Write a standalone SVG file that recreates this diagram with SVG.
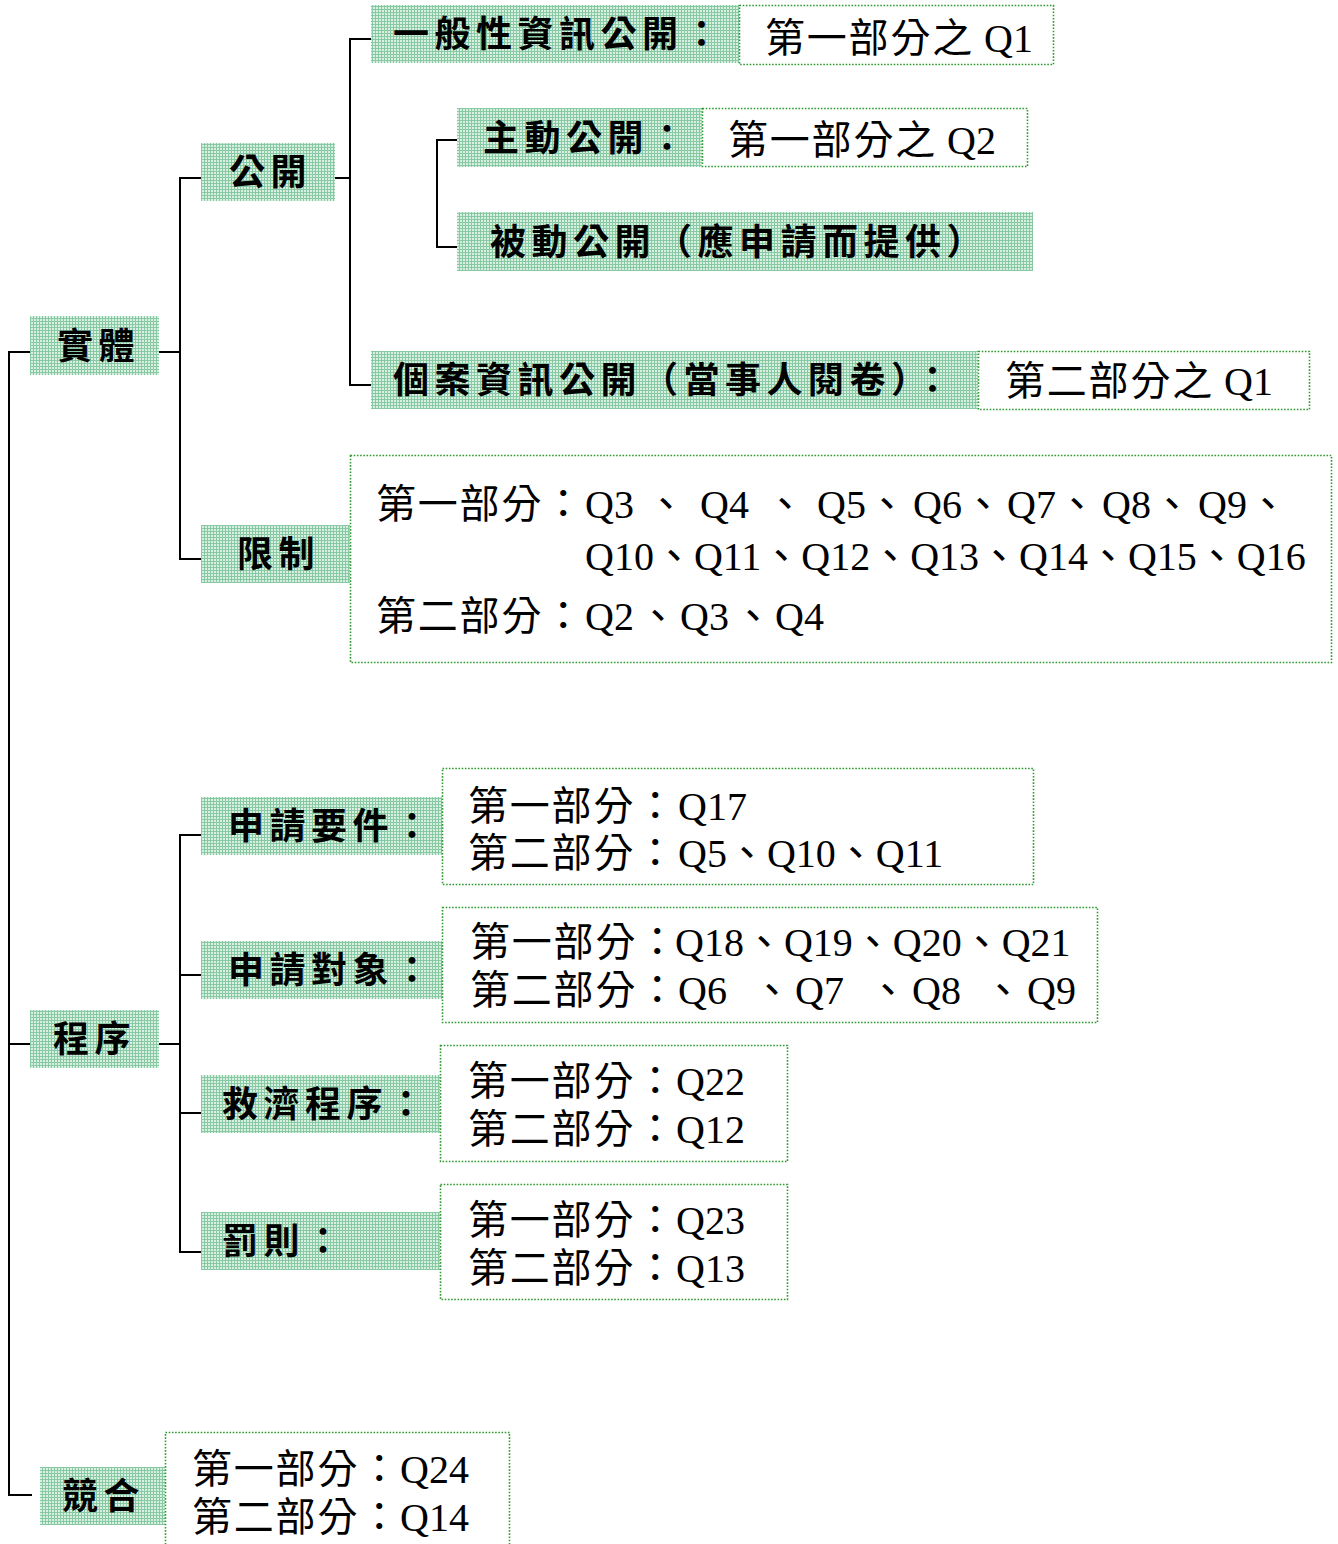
<svg xmlns="http://www.w3.org/2000/svg" width="1338" height="1544" viewBox="0 0 1338 1544">
<defs>
<pattern id="grid" width="3" height="3" patternUnits="userSpaceOnUse">
<rect width="3" height="3" fill="#d9efe2"/>
<path d="M0,0.5H3M0.5,0V3" stroke="#86c9a2" stroke-width="1"/>
</pattern>
</defs>
<style>
.lbl{fill:url(#grid);stroke:none}
.box{fill:#ffffff;stroke:#2f9a2f;stroke-width:1.6;stroke-dasharray:1.6 1.6}
.lt{font-family:"Noto Sans CJK TC","Noto Sans CJK JP",sans-serif;font-weight:700;font-size:36px;letter-spacing:5.5px;fill:#000}
.bt{font-family:"Liberation Serif","Noto Sans CJK TC",serif;font-size:40px;fill:#000}
.cj{letter-spacing:1.8px}
.con{fill:none;stroke:#000;stroke-width:2}
</style>
<rect width="1338" height="1544" fill="#ffffff"/>
<g id="connectors">
<path class="con" d="M30,352H9V1495H32M9,1044H30"/>
<path class="con" d="M158,352H180M201,178H180V559H201"/>
<path class="con" d="M329,178H350M371,39H350V385H371"/>
<path class="con" d="M457,140H437V247H457"/>
<path class="con" d="M158,1044H180M201,835H180V1252H201M180,975H201M180,1113H201"/>
</g>
<g id="n-shiti"><rect class="lbl" x="30" y="316" width="129" height="59"/><text class="lt" x="57" y="359">實體</text></g>
<g id="n-gongkai"><rect class="lbl" x="201" y="143" width="134" height="58"/><text class="lt" x="229" y="185">公開</text></g>
<g id="n-yiban"><rect class="lbl" x="371" y="5" width="368" height="58"/><text class="lt" x="393" y="47">一般性資訊公開：</text>
<rect class="box" x="739.5" y="5.5" width="314" height="59"/><text class="bt" x="765" y="52"><tspan class="cj">第一部分之</tspan> Q1</text></g>
<g id="n-zhudong"><rect class="lbl" x="457" y="108" width="245" height="59"/><text class="lt" x="483" y="151">主動公開：</text>
<rect class="box" x="702.5" y="108.5" width="325" height="58"/><text class="bt" x="728" y="154"><tspan class="cj">第一部分之</tspan> Q2</text></g>
<g id="n-beidong"><rect class="lbl" x="457" y="212" width="576" height="59"/><text class="lt" x="490" y="255">被動公開（應申請而提供）</text></g>
<g id="n-gean"><rect class="lbl" x="371" y="351" width="607" height="58"/><text class="lt" x="393" y="393">個案資訊公開（當事人閱卷）：</text>
<rect class="box" x="978.5" y="351.5" width="331" height="58"/><text class="bt" x="1005" y="395"><tspan class="cj">第二部分之</tspan> Q1</text></g>
<g id="n-xianzhi"><rect class="lbl" x="201" y="525" width="149" height="58"/><text class="lt" x="237" y="567">限制</text>
<rect class="box" x="350.5" y="455.5" width="981" height="207"/>
<text class="bt" y="518"><tspan class="cj" x="376">第一部分：</tspan><tspan x="585">Q3</tspan><tspan x="646">、</tspan><tspan x="700">Q4</tspan><tspan x="765">、</tspan><tspan x="817">Q5</tspan><tspan x="867">、</tspan><tspan x="913">Q6</tspan><tspan x="963">、</tspan><tspan x="1007">Q7</tspan><tspan x="1057">、</tspan><tspan x="1102">Q8</tspan><tspan x="1152">、</tspan><tspan x="1198">Q9</tspan><tspan x="1248">、</tspan></text>
<text class="bt" x="585" y="570">Q10、Q11、Q12、Q13、Q14、Q15、Q16</text>
<text class="bt" y="630"><tspan class="cj" x="376">第二部分：</tspan><tspan x="585">Q2</tspan><tspan x="638">、</tspan><tspan x="680">Q3</tspan><tspan x="733">、</tspan><tspan x="775">Q4</tspan></text></g>
<g id="n-chengxu"><rect class="lbl" x="30" y="1010" width="129" height="58"/><text class="lt" x="53" y="1052">程序</text></g>
<g id="n-yaojian"><rect class="lbl" x="201" y="797" width="241" height="58"/><text class="lt" x="228" y="839">申請要件：</text>
<rect class="box" x="442.5" y="768.5" width="591" height="116"/>
<text class="bt" y="820"><tspan class="cj" x="468">第一部分：</tspan><tspan x="678">Q17</tspan></text>
<text class="bt" y="867"><tspan class="cj" x="468">第二部分：</tspan><tspan x="678">Q5、Q10、Q11</tspan></text></g>
<g id="n-duixiang"><rect class="lbl" x="201" y="941" width="241" height="58"/><text class="lt" x="228" y="983">申請對象：</text>
<rect class="box" x="442.5" y="907.5" width="655" height="115"/>
<text class="bt" y="956"><tspan class="cj" x="470">第一部分：</tspan><tspan x="675">Q18、Q19、Q20、Q21</tspan></text>
<text class="bt" y="1004"><tspan class="cj" x="470">第二部分：</tspan><tspan x="678">Q6</tspan><tspan x="752">、</tspan><tspan x="795">Q7</tspan><tspan x="868">、</tspan><tspan x="912">Q8</tspan><tspan x="983">、</tspan><tspan x="1027">Q9</tspan></text></g>
<g id="n-jiuji"><rect class="lbl" x="201" y="1075" width="239" height="58"/><text class="lt" x="222" y="1117">救濟程序：</text>
<rect class="box" x="440.5" y="1045.5" width="347" height="116"/>
<text class="bt" y="1095"><tspan class="cj" x="468">第一部分：</tspan><tspan x="676">Q22</tspan></text>
<text class="bt" y="1143"><tspan class="cj" x="468">第二部分：</tspan><tspan x="676">Q12</tspan></text></g>
<g id="n-faze"><rect class="lbl" x="201" y="1212" width="239" height="58"/><text class="lt" x="222" y="1254">罰則：</text>
<rect class="box" x="440.5" y="1184.5" width="347" height="115"/>
<text class="bt" y="1234"><tspan class="cj" x="468">第一部分：</tspan><tspan x="676">Q23</tspan></text>
<text class="bt" y="1282"><tspan class="cj" x="468">第二部分：</tspan><tspan x="676">Q13</tspan></text></g>
<g id="n-jinghe"><rect class="lbl" x="40" y="1467" width="125" height="58"/><text class="lt" x="62" y="1509">競合</text>
<rect class="box" x="165.5" y="1432.5" width="344" height="120"/>
<text class="bt" y="1483"><tspan class="cj" x="192">第一部分：</tspan><tspan x="400">Q24</tspan></text>
<text class="bt" y="1531"><tspan class="cj" x="192">第二部分：</tspan><tspan x="400">Q14</tspan></text></g>
</svg>
